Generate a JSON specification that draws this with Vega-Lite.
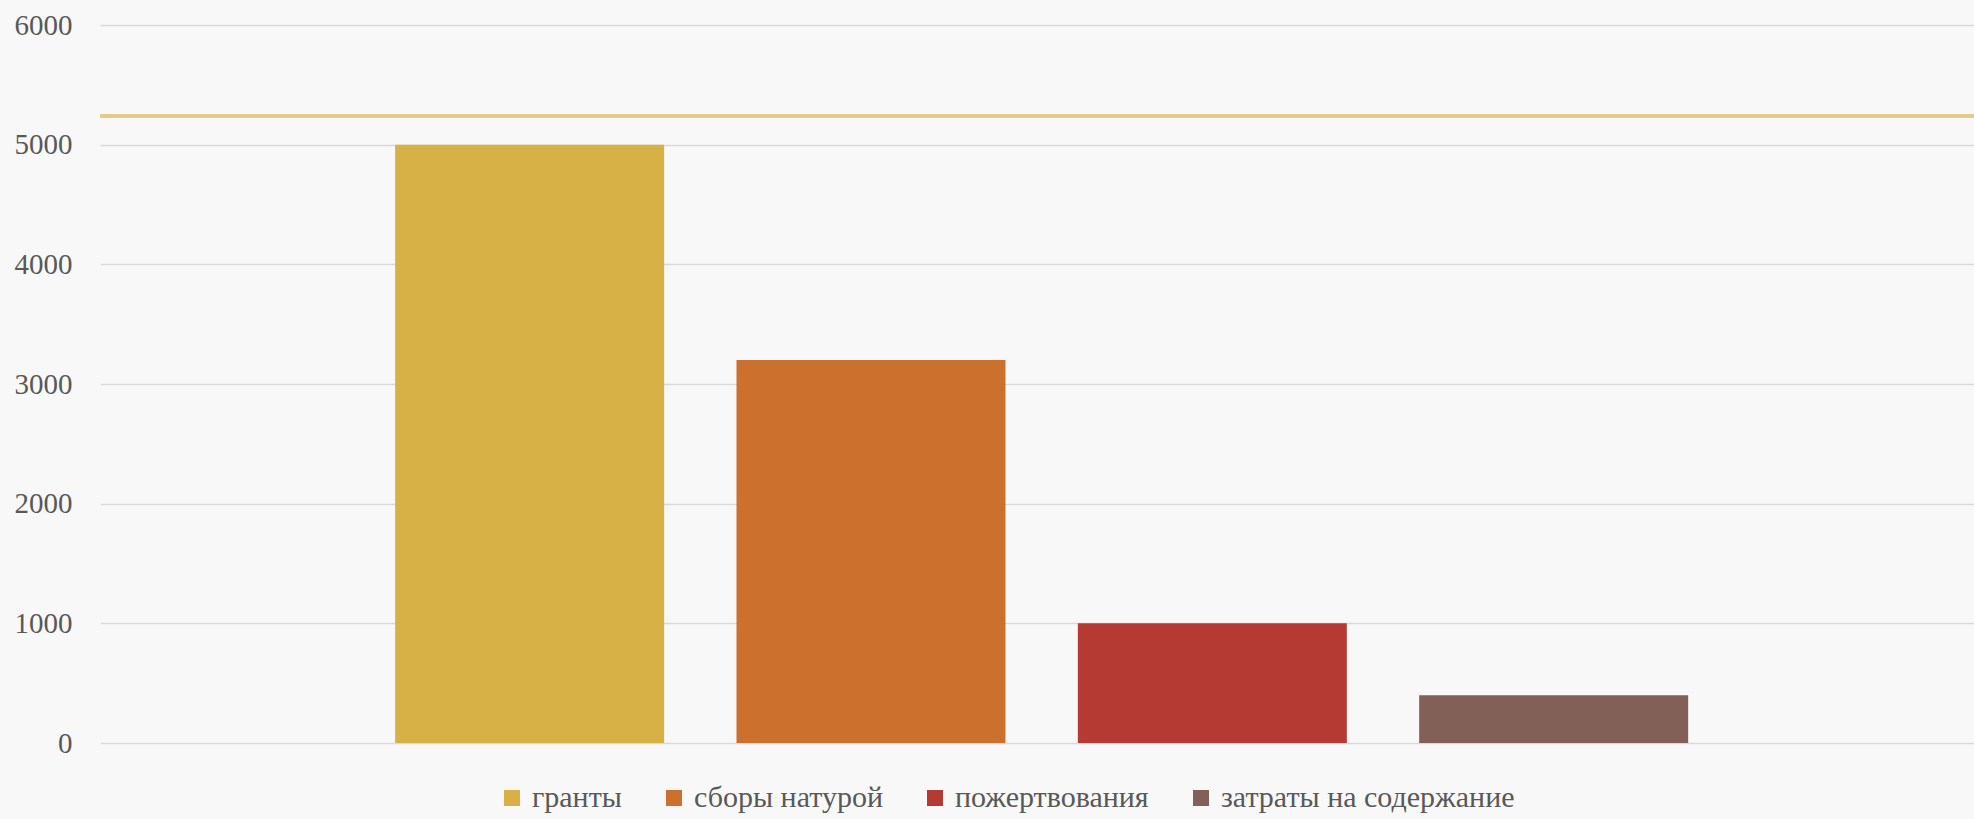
{
  "$schema": "https://vega.github.io/schema/vega-lite/v6.json",
  "autosize": {"type": "none"},
  "padding": {"left": 100, "top": 25, "right": 0, "bottom": 76},
  "width": 1874,
  "height": 718,
  "background": "#f8f8f8",
  "config": {
    "view": {"stroke": null},
    "font": "Liberation Serif"
  },
  "data": {
    "values": [
      {"cat": "гранты", "value": 5000},
      {"cat": "сборы натурой", "value": 3200},
      {"cat": "пожертвования", "value": 1000},
      {"cat": "затраты на содержание", "value": 400}
    ]
  },
  "layer": [
    {
      "mark": {"type": "bar"},
      "encoding": {
        "x": {
          "field": "cat",
          "type": "nominal",
          "sort": null,
          "axis": null,
          "scale": {"paddingInner": 0.212, "paddingOuter": 0.851, "align": 0.508}
        },
        "y": {
          "field": "value",
          "type": "quantitative",
          "scale": {"domain": [0, 6000]},
          "axis": {
            "title": null,
            "values": [0, 1000, 2000, 3000, 4000, 5000, 6000],
            "format": "d",
            "domain": false,
            "ticks": false,
            "labelPadding": 28,
            "labelFontSize": 29,
            "labelColor": "#595959",
            "labelFont": "Liberation Serif",
            "gridColor": "#d9d9d9",
            "gridWidth": 1.5
          }
        },
        "color": {
          "field": "cat",
          "type": "nominal",
          "sort": null,
          "scale": {
            "domain": ["гранты", "сборы натурой", "пожертвования", "затраты на содержание"],
            "range": ["#D8B146", "#CB702D", "#B53A33", "#826057"]
          },
          "legend": {
            "title": null,
            "orient": "none",
            "legendX": 397,
            "legendY": 758,
            "direction": "horizontal",
            "symbolType": "square",
            "symbolSize": 256,
            "symbolStrokeWidth": 0,
            "labelFontSize": 30,
            "labelLimit": 0,
            "labelColor": "#595959",
            "labelFont": "Liberation Serif",
            "columnPadding": 37,
            "labelOffset": 5
          }
        }
      }
    },
    {
      "mark": {"type": "rule", "color": "#E6C987", "strokeWidth": 3},
      "encoding": {
        "y": {"datum": 5240, "type": "quantitative"}
      }
    }
  ]
}
